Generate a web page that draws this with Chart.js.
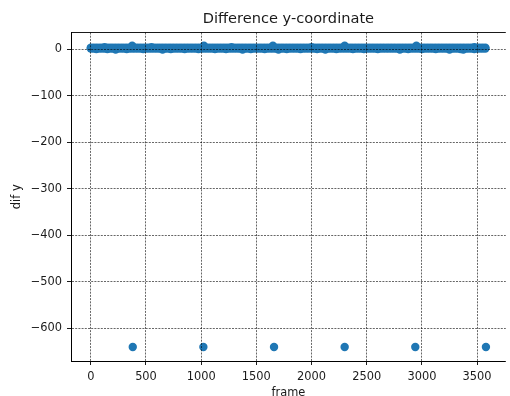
<!DOCTYPE html>
<html>
<head>
<meta charset="utf-8">
<script src="https://cdn.jsdelivr.net/npm/chart.js@4/dist/chart.umd.min.js"></script>
<style>
  html, body { margin: 0; padding: 0; background: #fff; overflow: hidden; }
  canvas { display: block; }
</style>
</head>
<body>
<canvas id="c" width="510" height="396"></canvas>
<script>
// Sampled frames along the steady band of per-frame differences
const bandFrames = [
  0, 25, 50, 75, 100, 125, 150, 175, 200, 225, 250, 275,
  300, 325, 350, 375, 400, 425, 450, 475, 500, 525, 550, 575,
  600, 625, 650, 675, 700, 725, 750, 775, 800, 825, 850, 875,
  900, 925, 950, 975, 1000, 1025, 1050, 1075, 1100, 1125, 1150, 1175,
  1200, 1225, 1250, 1275, 1300, 1325, 1350, 1375, 1400, 1425, 1450, 1475,
  1500, 1525, 1550, 1575, 1600, 1625, 1650, 1675, 1700, 1725, 1750, 1775,
  1800, 1825, 1850, 1875, 1900, 1925, 1950, 1975, 2000, 2025, 2050, 2075,
  2100, 2125, 2150, 2175, 2200, 2225, 2250, 2275, 2300, 2325, 2350, 2375,
  2400, 2425, 2450, 2475, 2500, 2525, 2550, 2575, 2600, 2625, 2650, 2675,
  2700, 2725, 2750, 2775, 2800, 2825, 2850, 2875, 2900, 2925, 2950, 2975,
  3000, 3025, 3050, 3075, 3100, 3125, 3150, 3175, 3200, 3225, 3250, 3275,
  3300, 3325, 3350, 3375, 3400, 3425, 3450, 3475, 3500, 3525, 3550, 3575
];
// Largest difference seen around each sampled frame
const bandHigh = [
  3, 3, 3, 3, 3, 4, 3, 3, 3, 3, 3, 3,
  3, 3, 3, 7, 3, 3, 3, 3, 3, 3, 4, 3,
  3, 3, 3, 3, 3, 3, 3, 3, 3, 3, 3, 3,
  3, 3, 3, 3, 3, 7, 3, 3, 3, 3, 3, 3,
  3, 3, 3, 4, 3, 3, 3, 3, 3, 3, 3, 3,
  3, 3, 3, 3, 3, 3, 7, 3, 3, 3, 3, 3,
  3, 3, 3, 3, 3, 3, 3, 3, 4, 3, 3, 3,
  3, 3, 3, 3, 3, 3, 3, 3, 7, 3, 3, 3,
  3, 3, 3, 3, 3, 3, 3, 3, 3, 3, 3, 3,
  3, 3, 3, 3, 3, 3, 3, 3, 3, 3, 7, 3,
  3, 3, 3, 3, 3, 3, 3, 3, 3, 3, 3, 3,
  3, 3, 3, 3, 3, 3, 3, 4, 3, 3, 3, 3
];
// Smallest difference seen around each sampled frame
const bandLow = [
  1, 1, 0, 1, 1, 1, 0, 1, 1, -1, 1, 1,
  1, 0, 1, 1, 1, 1, 1, 0, 1, 1, 1, 1,
  1, 1, -1, 1, 1, 0, 1, 1, 1, 1, 0, 1,
  1, 1, 1, 0, 1, 1, 1, 1, 1, 0, 1, 1,
  1, 0, 1, 1, 1, 1, 1, -1, 1, 1, 0, 1,
  1, 1, 1, 0, 1, 1, 1, 1, -1, 1, 1, 0,
  1, 1, 1, 1, 0, 1, 1, 1, 1, 1, 0, 1,
  1, -1, 1, 1, 1, 0, 1, 1, 1, 1, 1, 0,
  1, 1, 1, 0, 1, 1, 1, 1, 0, 1, 1, 1,
  1, 1, 1, 1, -1, 1, 1, 0, 1, 1, 1, 1,
  0, 1, 1, 1, 1, 0, 1, 1, 1, 1, -1, 1,
  1, 1, 0, -1, 1, 1, 1, 0, 1, 1, 1, 1
];
// Jumps where the tracked y-coordinate resets
const jumpFrames = [380, 1020, 1660, 2300, 2940, 3580];
const jumpDiff = [-640, -640, -640, -640, -640, -640];

const xTicks = [0, 500, 1000, 1500, 2000, 2500, 3000, 3500];
const yTicks = [0, -100, -200, -300, -400, -500, -600];

const points = bandFrames.map((f, i) => ({ x: f, y: bandHigh[i] }))
  .concat(bandFrames.map((f, i) => ({ x: f, y: bandLow[i] })))
  .concat(jumpFrames.map((f, i) => ({ x: f, y: jumpDiff[i] })));

const FONT = 'DejaVu Sans';
const TEXT = '#1a1a1a';

const gridOpts = {
  color: '#000',
  lineWidth: 0.6,
  z: 1,
  drawTicks: true,
  tickLength: 4,
  tickColor: '#000',
  tickWidth: 0.9
};

const frameBox = {
  id: 'frameBox',
  afterDraw(chart) {
    const { ctx, chartArea } = chart;
    ctx.save();
    // top spine
    ctx.strokeStyle = '#000';
    ctx.lineWidth = 0.9;
    ctx.beginPath();
    ctx.moveTo(chartArea.left, chartArea.top);
    ctx.lineTo(chartArea.right, chartArea.top);
    ctx.stroke();
    // title centred over the plot area
    ctx.fillStyle = TEXT;
    ctx.font = '14.6px "' + FONT + '"';
    ctx.textAlign = 'center';
    ctx.textBaseline = 'middle';
    ctx.fillText('Difference y-coordinate', (chartArea.left + chartArea.right) / 2, 19);
    ctx.restore();
  }
};

new Chart(document.getElementById('c'), {
  type: 'scatter',
  data: {
    datasets: [{
      data: points,
      backgroundColor: '#1f77b4',
      borderColor: '#1f77b4',
      borderWidth: 0,
      pointRadius: 4.2,
      pointHoverRadius: 4.2
    }]
  },
  options: {
    responsive: false,
    animation: false,
    events: [],
    layout: { padding: { top: 32.5, left: 0, right: 0, bottom: 0 } },
    plugins: {
      legend: { display: false },
      title: { display: false },
      tooltip: { enabled: false }
    },
    scales: {
      x: {
        type: 'linear',
        min: -179.5,
        max: 3760,
        z: 1,
        afterFit(scale) { scale.height = 35; },
        afterBuildTicks(scale) { scale.ticks = xTicks.map(v => ({ value: v })); },
        grid: gridOpts,
        border: { display: true, color: '#000', width: 1, dash: [2, 1.2], z: 1 },
        ticks: {
          color: TEXT,
          padding: 5,
          maxRotation: 0,
          autoSkip: false,
          font: { family: FONT, size: 11.4 },
          callback: v => String(v)
        },
        title: {
          display: true,
          text: 'frame',
          color: TEXT,
          font: { family: FONT, size: 11.4, lineHeight: 1 },
          padding: { top: 0, bottom: -2.5 }
        }
      },
      y: {
        type: 'linear',
        min: -670,
        max: 35.5,
        z: 1,
        afterFit(scale) { scale.width = 71; },
        afterBuildTicks(scale) { scale.ticks = yTicks.map(v => ({ value: v })); },
        grid: gridOpts,
        border: { display: true, color: '#000', width: 1, dash: [2, 1.2], z: 1 },
        ticks: {
          color: TEXT,
          padding: 5,
          autoSkip: false,
          font: { family: FONT, size: 11.4 },
          callback: v => (v < 0 ? '\u2212' + Math.abs(v) : String(v))
        },
        title: {
          display: true,
          text: 'dif y',
          color: TEXT,
          font: { family: FONT, size: 11.4, lineHeight: 1 },
          padding: { top: 11, bottom: 11 }
        }
      }
    }
  },
  plugins: [frameBox]
});
</script>
</body>
</html>
